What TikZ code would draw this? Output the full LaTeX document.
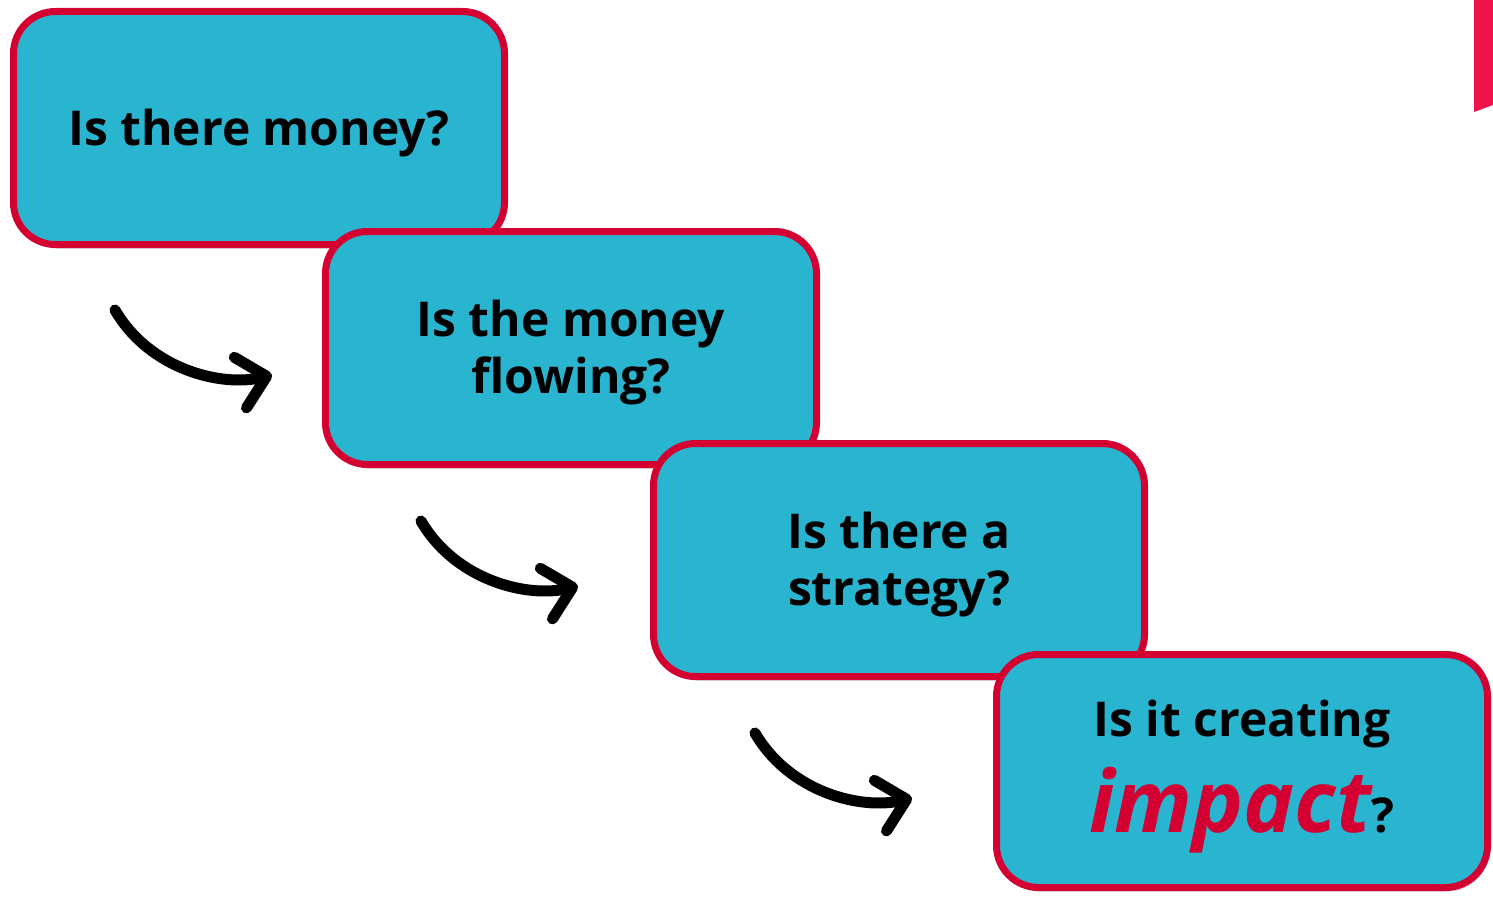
\documentclass[tikz,border=0pt]{standalone}
\usepackage{fontspec}
\setmainfont{Open Sans}
\usetikzlibrary{arrows.meta,shadows}

\definecolor{boxfill}{HTML}{29B4D0}
\definecolor{boxline}{HTML}{D50032}
\definecolor{barred}{HTML}{F0134B}

\tikzset{
  qbox/.style={draw=boxline, line width=7pt, fill=boxfill, rounded corners=42pt,
    minimum width=491pt, minimum height=233pt,
    drop shadow={shadow xshift=2pt, shadow yshift=-4pt, opacity=0.18, fill=black}},
  qtext/.style={align=center, inner sep=0pt,
    font=\fontsize{48}{57}\selectfont\bfseries},
  curvearrow/.style={line width=11pt, line cap=round, black,
    -{Straight Barb[length=27pt, width=52pt, round]}}
}

\begin{document}
\begin{tikzpicture}[x=1pt,y=-1pt]
\useasboundingbox (0,0) rectangle (1493,899);
%red bar in the top right corner
\fill[barred] (1474,0) -- (1493,0) -- (1493,105) -- (1474,112) -- cycle;
%the four question boxes, each one over the one before
\node[qbox] (money) at (259,128) {};
\node[qtext] at ([yshift=-5pt]money.center) {Is there money?};
\node[qbox] (flow) at (571,348) {};
\node[qtext] at ([yshift=-5pt]flow.center) {Is the money\\flowing?};
\node[qbox] (strat) at (899,560) {};
\node[qtext] at ([yshift=-5pt]strat.center) {Is there a\\strategy?};
\node[qbox] (impact) at (1242,771) {};
\node[qtext] at ([yshift=-6pt]impact.center) {Is it creating\\[18pt]{\fontsize{86}{86}\selectfont\itshape\color{boxline}impact}?};
%curved arrows between the boxes
\foreach \i/\dx/\dy in {1/0/0, 2/306/211, 3/640/423} {
  \coordinate (a\i s) at (115+\dx,310+\dy);
  \coordinate (a\i e) at (272+\dx,375+\dy);
  \draw[curvearrow] (a\i s) .. controls +(35,60) and +(-50,12) .. (a\i e);
}
\end{tikzpicture}
\end{document}
